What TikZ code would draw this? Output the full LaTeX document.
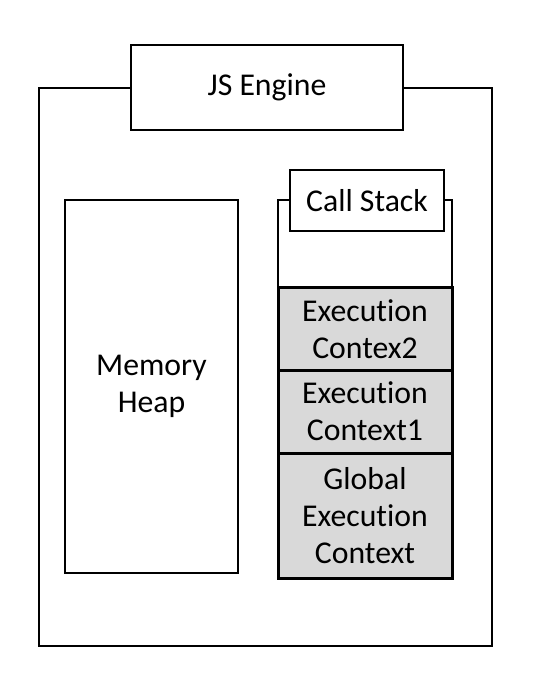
\documentclass[tikz,border=0pt]{standalone}
\usepackage{fontspec}
\setmainfont{Carlito}[Ligatures=NoCommon]
\begin{document}
\begin{tikzpicture}[x=0.75pt,y=-0.75pt,
  box/.style={draw=black, line width=1.5pt, fill=white, inner sep=0pt, align=center,
    font=\fontsize{23.8}{27.8}\selectfont},
  ctx/.style={box, fill=gray!30!white, line width=2.25pt, minimum width=130.5pt}]
\useasboundingbox (0,0) rectangle (532,680);
\node[box, fill=none, minimum width=339.75pt, minimum height=418.5pt] (outer) at (265.5,367) {};
\node[box, minimum width=204pt, minimum height=63.75pt] (engine) at (267,87.5) {JS Engine};
\node[box, minimum width=129.75pt, minimum height=279.75pt] (heap) at (151.5,386.5) {Memory\\Heap};
\node[box, minimum width=115.5pt, minimum height=45.75pt] (cs) at (367,200.5) {Call Stack};
\draw[line width=1.5pt] (278,288) |- (cs.west);
\draw[line width=1.5pt] (452,288) |- (cs.east);
\node[ctx, minimum height=93.75pt] (g3) at (365,515.5) {Global\\Execution\\Context};
\node[ctx, minimum height=62.25pt] (g2) at (365,411.5) {Execution\\Context1};
\node[ctx, minimum height=61.5pt] (g1) at (365,329) {Execution\\Contex2};
\end{tikzpicture}
\end{document}
